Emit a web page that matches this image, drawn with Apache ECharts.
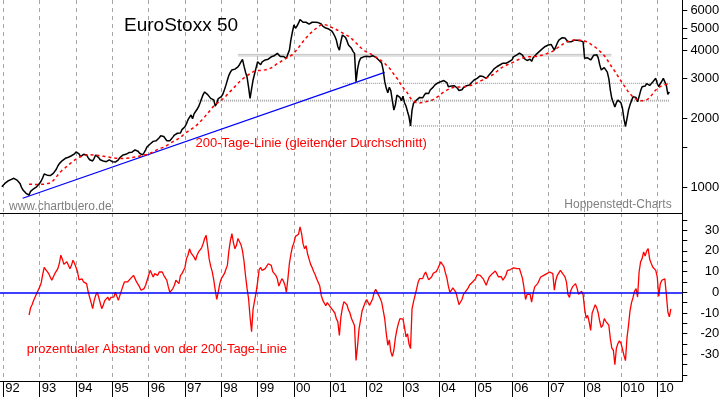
<!DOCTYPE html>
<html><head><meta charset="utf-8">
<script src="https://cdn.jsdelivr.net/npm/echarts@6/dist/echarts.min.js"></script>
<style>html,body{margin:0;padding:0;background:#fff}#c{width:723px;height:397px}</style>
</head><body><div id="c"></div>
<script>
const FONT = '"Liberation Sans", Arial, sans-serif';

// ---- axis ticks / labels ----
const yearTicks = [1992,1993,1994,1995,1996,1997,1998,1999,2000,2001,2002,2003,2004,2005,2006,2007,2008,2009,2010];
const yearLabels = ['92','93','94','95','96','97','98','99','00','01','02','03','04','05','06','07','08','010','10'];
const upperTickValues = [1000,1500,2000,3000,4000,4500,5000,6000];
const upperLabelValues = [1000,2000,3000,4000,5000,6000];
const lowerTickValues = [-40,-35,-30,-25,-20,-15,-10,-5,0,5,10,15,20,25,30,35];
const lowerLabelValues = [-30,-20,-10,0,10,20,30];

// ---- EuroStoxx 50, half-monthly readings ----
const indexStart = 1991.958, indexStep = 1/24;
const indexValues = [
1006,1025,1040,1058,1065,1070,1080,1090,1095,1092,1075,1058,1040,1000,973,957,941,930,925,960,973,985,990,1005,
1024,1041,1065,1100,1144,1140,1130,1113,1125,1132,1150,1159,1200,1240,1270,1295,1310,1318,1340,1330,1355,1370,1375,1386,
1400,1430,1447,1400,1362,1380,1395,1386,1386,1350,1320,1295,1305,1340,1386,1375,1350,1320,1295,1305,1310,1295,1305,1318,
1310,1295,1305,1290,1300,1320,1350,1375,1386,1380,1395,1410,1420,1400,1425,1440,1458,1450,1440,1410,1400,1386,1420,1460,
1507,1530,1549,1570,1590,1612,1600,1630,1650,1684,1684,1670,1640,1600,1585,1600,1630,1660,1695,1700,1726,1720,1730,1790,
1800,1844,1900,1980,2020,2076,2000,2100,2150,2200,2258,2350,2450,2550,2620,2672,2550,2500,2456,2500,2420,2273,2337,2450,
2450,2500,2560,2672,2800,2950,3100,3200,3272,3250,3300,3350,3378,3450,3550,3641,3400,3200,3050,2750,2456,2700,2957,3150,
3350,3555,3500,3450,3550,3600,3620,3580,3650,3700,3737,3720,3780,3820,3870,3800,3750,3700,3750,3700,3682,3850,3998,4450,
4815,5160,4990,5100,5248,5453,5400,5300,5350,5300,5248,5200,5280,5300,5330,5300,5330,5280,5250,5205,5100,5065,5000,4990,
4950,4897,4850,4737,4600,4427,4138,3998,4354,4660,4620,4550,4400,4210,4150,4073,3950,3870,2907,3300,3550,3682,3700,3737,
3737,3760,3700,3737,3760,3780,3750,3720,3682,3620,3555,3500,3250,2900,2718,2600,2750,2650,2400,2182,2300,2537,2560,2480,
2400,2509,2350,2273,2150,2038,1858,2182,2337,2380,2413,2460,2480,2497,2470,2530,2587,2620,2580,2672,2700,2750,2809,2850,
2870,2890,2907,2930,2940,2957,2880,2760,2718,2780,2809,2790,2762,2720,2660,2627,2680,2740,2762,2790,2800,2809,2870,2920,
2957,2980,3006,3050,3080,3110,3060,3030,3006,3060,3120,3166,3230,3300,3367,3380,3400,3441,3420,3503,3450,3500,3540,3555,
3555,3620,3737,3760,3800,3870,3880,3890,3800,3682,3620,3600,3555,3650,3570,3700,3760,3830,3900,3938,4000,4050,4100,4150,
4150,4210,4180,4230,4200,3998,4150,4300,4427,4500,4530,4580,4520,4550,4350,4284,4350,4380,4420,4495,4420,4380,4400,4420,
4354,3682,3750,3700,3650,3620,3700,3800,3870,3820,3700,3450,3272,3300,3350,3367,3200,3000,2672,2450,2413,2250,2350,2413,
2450,2350,2222,2000,1844,2000,2182,2300,2400,2497,2450,2480,2373,2500,2650,2762,2800,2780,2850,2907,2800,2850,2900,2950,
3006,2850,2762,2850,2920,3006,2950,2800,2560,2620
];

// ---- 200-day moving average, monthly readings ----
const maStart = 1992.708, maStep = 1/12;
const maValues = [
1031,1030,1028,1028,1030,1032,1038,1045,1070,1110,1155,1190,1220,1250,1285,1315,1340,1362,1376,1386,1388,1386,1382,1378,
1370,1365,1360,1352,1345,1340,1338,1338,1340,1343,1350,1358,1365,1375,1385,1395,1410,1430,1455,1475,1492,1510,1540,1570,
1600,1625,1655,1700,1740,1780,1815,1855,1910,1970,2035,2110,2190,2270,2330,2385,2440,2510,2600,2680,2765,2860,2945,3020,
3090,3150,3210,3245,3255,3260,3275,3300,3340,3410,3490,3550,3620,3690,3750,3820,3950,4100,4280,4450,4600,4750,4880,5000,
5120,5180,5160,5100,5030,4960,4880,4800,4720,4640,4560,4430,4300,4170,4050,3960,3900,3840,3760,3700,3620,3540,3440,3340,
3200,3070,2950,2800,2690,2590,2460,2390,2350,2345,2355,2370,2390,2410,2450,2500,2560,2620,2670,2710,2740,2750,2755,2760,
2770,2790,2805,2830,2870,2920,2965,3010,3060,3110,3180,3260,3340,3400,3450,3490,3540,3600,3650,3690,3720,3737,3740,3750,
3760,3790,3820,3860,3900,3960,4040,4130,4220,4300,4360,4400,4427,4430,4420,4400,4360,4300,4200,4120,4020,3900,3780,3620,
3450,3300,3150,3000,2860,2740,2620,2530,2460,2420,2400,2400,2420,2480,2570,2670,2740,2790,2820,2835
];

// ---- percent distance from the 200-day line, half-monthly readings ----
const pctStart = 1992.708, pctStep = 1/24;
const pctValues = [
-11,-7.5,-6,-4,-3.5,-0.6,
1,2.5,4.5,8.5,12,11,10.5,9,7.4,5.8,6.5,9,9.8,11.4,14,17.9,16,13.5,12.8,14.7,15.3,11.4,13,15.5,
14,13.5,10,6,5.8,6.5,5,4.2,4.2,0.5,-2.3,-5,-7.9,-4,-1.5,0,-2.3,-1.6,-7.9,-6.3,-4,-3.2,-2.3,-3.9,
-2.5,-1.6,-2.3,0,-0.8,-3.9,-1.5,-0.8,3,5,4.2,5,5.8,6.6,7.4,8.2,6.6,5,4.2,2.6,1,0.5,1.8,3.4,
5.8,6.6,10.6,9.8,7.4,9,9,8.2,9.8,10.6,9.8,8.2,7,5.8,2.6,0,0.5,1.8,3.4,5.8,5,4.2,8,9,
9.8,12,16.3,17.9,21,19,19.5,17,15.5,18,19.5,19,21.5,23.5,26,27.5,22,16,12.5,10,6,1,-3.4,0.2,
4.2,6.6,5.8,9,11,13,20,25,28.3,24,21,22.7,26,26.7,23,20,15,8,2,-3,-12,-19,-8,-4,
0,5,11,12,10.6,10,11.4,12,13.8,14.7,13,10,10.5,8.2,6.5,3,3.5,6.6,5.5,3.5,0,6.6,14,18.5,
22,24,27,27.5,28,31.6,28.5,23.5,21,22.5,18.5,16,13.5,12,10,8.5,6.5,5.6,3.2,-1.4,-3.8,-3,-6.5,-5,
-5,-7,-8,-8.5,-10,-12.8,-14.3,-20.8,-12,-7.5,-4.5,-4.5,-6,-8.5,-10,-12.7,-13.5,-16,-32.9,-26,-17.6,-13.5,-9,-7,
-5,-3.5,-5,-6.3,-4.7,-3.1,0,1.4,0.5,-1.5,-3,-5,-9,-13,-20,-25.6,-23,-28.8,-31,-28,-22,-18,-15,-12.7,
-13.5,-13,-16.7,-21.6,-20,-25,-27.2,-8,-4.5,-1.5,1.5,4.8,6.6,6,6.6,8.5,9.8,9,6,5.5,7.5,9.2,9.8,10,
11.4,13,14.7,13.5,12.5,9.5,7,3,0,1,2.1,1,0,-3,-6,-5.5,-3.5,-1,0,0.5,2,3.5,4.2,5,
5.8,6.6,8.5,8.5,8.2,7.5,6.5,5,3.4,5.5,7.4,8,9,9.6,10.3,9,7.5,7,7.5,5.8,7,8.2,10.5,11.2,
11,11.4,11.8,12.2,11.5,11,11.4,9,6.6,2,-3.5,-1,-1.5,-1,-4.7,-0.5,2.6,3.4,4.2,5,7.4,6.6,8.2,9,
9,9.5,9.8,10,9,1,5.8,8.2,9,10.6,10,8.5,7.5,5,-1,-2.5,1,2.6,3.4,4.2,2,-1,-0.5,0.5,
-1,-7.9,-12.5,-11.1,-14.3,-18.4,-10,-8,-6,-7.5,-10,-14,-17,-16,-12.7,-14,-13.5,-15.9,-22.4,-27,-28,-35,-27,-24.8,
-23.5,-24.5,-24,-30.4,-33,-22,-16,-9,-5,-2.5,0.5,1.8,-2.3,9.8,14.7,16.3,19.5,17.5,20,21.1,16,14,12.2,12.5,
10.6,7.4,-2,4,5.8,6.6,6.5,-1,-9.5,-11.9,-8
];

// ---- drawn trend line and horizontal levels: [fromYear, toYear, level] ----
const trendLine = [[1992.532, 895], [2002.496, 3190]];
const levelLines = [
  [1998.455, 2008.736, 3830],
  [1998.455, 2008.736, 3770],
  [2001.344, 2010.340, 2860],
  [1997.355, 2010.340, 2399],
  [2003.168, 2009.083, 1858]
];
const levelStyles = [
  {color:'#c4c4c4', width:1, type:'solid'},
  {color:'#c4c4c4', width:1, type:'solid'},
  {color:'#8c8c8c', width:1, type:[1,1]},
  {color:'#a8a8a8', width:2, type:[1,1]},
  {color:'#7c7c7c', width:1, type:[1,1]}
];

const X_MIN = 1991.908, X_MAX = 2010.689;
const RIGHT = 723 - 682.3;

const indexData = indexValues.map((v, i) => [indexStart + i * indexStep, v]);
const maData = maValues.map((v, i) => [maStart + i * maStep, v]);
const pctData = pctValues.map((v, i) => [pctStart + i * pctStep, v]);

const splitLineStyle = {show:true, lineStyle:{color:'#a6a6a6', width:1, type:[4,4]}};

const levelSeries = levelLines.map((l, k) => ({
  type:'line', xAxisIndex:0, yAxisIndex:0, data:[[l[0], l[2]], [l[1], l[2]]],
  showSymbol:false, symbol:'none', silent:true, z:1, lineStyle:levelStyles[k]
}));

const option = {
  animation:false,
  backgroundColor:'#ffffff',
  textStyle:{fontFamily:FONT},
  grid:[
    {left:0, right:RIGHT, top:0, height:213},
    {left:0, right:RIGHT, top:213, height:168}
  ],
  xAxis:[
    {gridIndex:0, type:'value', min:X_MIN, max:X_MAX, position:'bottom',
     axisLine:{show:true, onZero:false, lineStyle:{color:'#000', width:1}},
     axisTick:{show:true, length:0, customValues:yearTicks},
     axisLabel:{show:false},
     splitLine:splitLineStyle},
    {gridIndex:1, type:'value', min:X_MIN, max:X_MAX, position:'bottom',
     axisLine:{show:true, onZero:false, lineStyle:{color:'#000', width:1}},
     axisTick:{show:true, inside:false, length:16, customValues:yearTicks, lineStyle:{color:'#000', width:1}},
     axisLabel:{show:true, customValues:yearTicks, align:'left', verticalAlign:'top', margin:1,
       padding:[0,0,0,2], fontSize:13, color:'#000', fontFamily:FONT,
       formatter:v => yearLabels[yearTicks.indexOf(Math.round(v))]},
     splitLine:splitLineStyle}
  ],
  yAxis:[
    {gridIndex:0, type:'log', min:771, max:6636, position:'right',
     axisLine:{show:true, onZero:false, lineStyle:{color:'#000', width:1}},
     axisTick:{show:true, length:5, customValues:upperTickValues, lineStyle:{color:'#000'}},
     axisLabel:{show:true, customValues:upperLabelValues, align:'right', margin:37, fontSize:13, color:'#000',
       fontFamily:FONT, formatter:v => String(Math.round(v))},
     splitLine:{show:false}},
    {gridIndex:1, type:'value', min:-42.85, max:38.3, position:'right',
     axisLine:{show:true, onZero:false, lineStyle:{color:'#000', width:1}},
     axisTick:{show:true, length:5, customValues:lowerTickValues, lineStyle:{color:'#000'}},
     axisLabel:{show:true, customValues:lowerLabelValues, align:'right', margin:37, fontSize:13, color:'#000',
       fontFamily:FONT, formatter:v => String(Math.round(v))},
     splitLine:{show:false}}
  ],
  series:[
    ...levelSeries,
    {type:'line', name:'trend', xAxisIndex:0, yAxisIndex:0, data:trendLine, showSymbol:false, symbol:'none',
     z:2, lineStyle:{color:'#0000ff', width:1.3}},
    {type:'line', name:'EuroStoxx 50', xAxisIndex:0, yAxisIndex:0, data:indexData, showSymbol:false, symbol:'none',
     z:3, lineStyle:{color:'#000000', width:1.5}},
    {type:'line', name:'200-Tage-Linie', xAxisIndex:0, yAxisIndex:0, data:maData, showSymbol:false, symbol:'none',
     smooth:0.3, z:4, lineStyle:{color:'#ff0000', width:1.5, type:[3,3]}},
    {type:'line', name:'Abstand', xAxisIndex:1, yAxisIndex:1, data:pctData, showSymbol:false, symbol:'none',
     z:3, lineStyle:{color:'#ff0000', width:1.3},
     markLine:{silent:true, symbol:['none','none'], label:{show:false}, z:5,
       lineStyle:{color:'#0000ff', width:1.5, type:'solid'}, data:[{yAxis:0}]}}
  ],
  graphic:[
    {type:'text', z:10, style:{text:'EuroStoxx 50', x:124, y:25.7, fill:'#000', font:'19px ' + FONT,
      textAlign:'left', textVerticalAlign:'middle'}},
    {type:'text', z:10, style:{text:'200-Tage-Linie (gleitender Durchschnitt)', x:195.5, y:143.5, fill:'#ff0000',
      font:'13px ' + FONT, textAlign:'left', textVerticalAlign:'middle'}},
    {type:'text', z:10, style:{text:'www.chartbuero.de', x:9, y:206.4, fill:'#808080',
      font:'12px ' + FONT, textAlign:'left', textVerticalAlign:'middle'}},
    {type:'text', z:10, style:{text:'Hoppenstedt-Charts', x:564.3, y:204.5, fill:'#808080',
      font:'12px ' + FONT, textAlign:'left', textVerticalAlign:'middle'}},
    {type:'text', z:10, style:{text:'prozentualer Abstand von der 200-Tage-Linie', x:26.7, y:349.5, fill:'#ff0000',
      font:'13px ' + FONT, textAlign:'left', textVerticalAlign:'middle'}}
  ]
};

const chart = echarts.init(document.getElementById('c'), null, {renderer:'canvas', width:723, height:397});
chart.setOption(option);
</script>
</body></html>
